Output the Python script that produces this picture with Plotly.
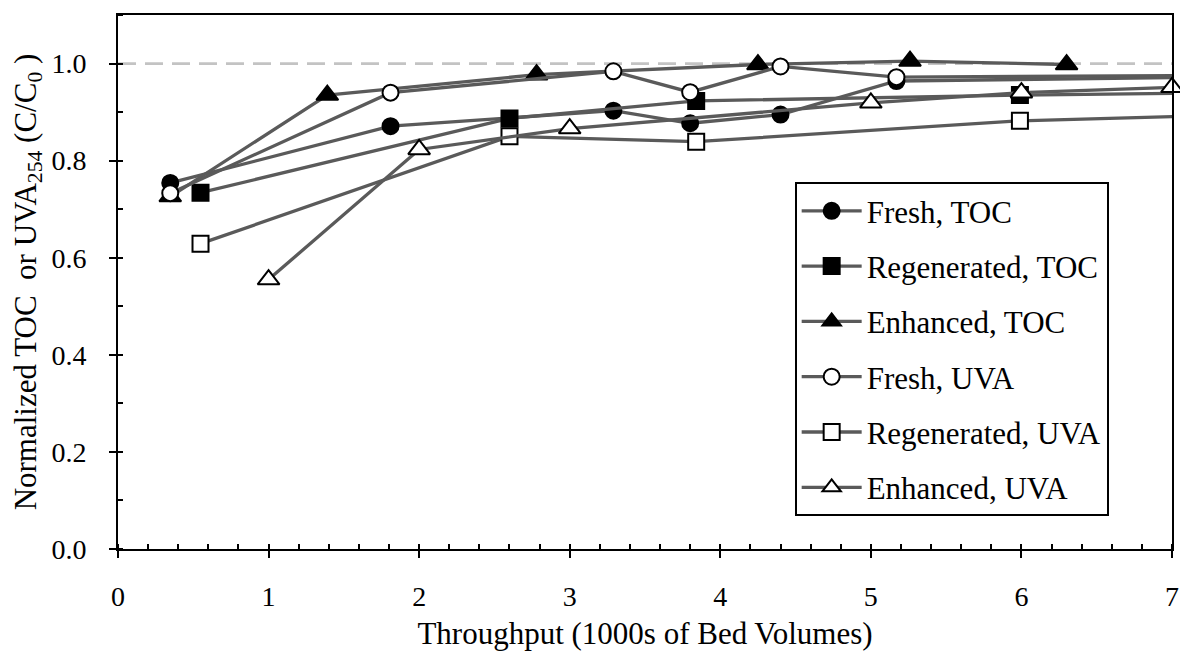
import plotly.graph_objects as go

# Throughput in 1000s of bed volumes, normalized concentration C/C0
fresh_toc_x = [0.347, 1.81, 3.29, 3.80, 4.40, 5.17, 7.5]
fresh_toc_y = [0.754, 0.871, 0.903, 0.877, 0.895, 0.964, 0.973]

regen_toc_x = [0.548, 2.60, 3.84, 5.99, 7.5]
regen_toc_y = [0.734, 0.887, 0.923, 0.935, 0.940]

enh_toc_x = [0.347, 1.39, 2.78, 4.25, 5.26, 6.30]
enh_toc_y = [0.726, 0.935, 0.977, 0.998, 1.005, 0.998]

fresh_uva_x = [0.347, 1.81, 3.29, 3.80, 4.40, 5.17, 7.5]
fresh_uva_y = [0.733, 0.940, 0.984, 0.941, 0.994, 0.972, 0.976]

regen_uva_x = [0.548, 2.60, 3.84, 5.99, 7.5]
regen_uva_y = [0.629, 0.850, 0.839, 0.882, 0.895]

enh_uva_x = [1.0, 2.0, 3.0, 5.0, 6.0, 7.0]
enh_uva_y = [0.555, 0.823, 0.866, 0.919, 0.940, 0.951]

x_ticks = [0, 1, 2, 3, 4, 5, 6, 7]
y_ticks = [0.0, 0.2, 0.4, 0.6, 0.8, 1.0]
reference_level = 1.0

FONT = "Liberation Serif"
LINE_GREY = "#5a5a5a"

series = [
    ("Fresh, TOC", fresh_toc_x, fresh_toc_y, "circle", "black"),
    ("Regenerated, TOC", regen_toc_x, regen_toc_y, "square", "black"),
    ("Enhanced, TOC", enh_toc_x, enh_toc_y, "triangle-up", "black"),
    ("Fresh, UVA", fresh_uva_x, fresh_uva_y, "circle", "white"),
    ("Regenerated, UVA", regen_uva_x, regen_uva_y, "square", "white"),
    ("Enhanced, UVA", enh_uva_x, enh_uva_y, "triangle-up", "white"),
]

fig = go.Figure()
for i, (name, xs, ys, sym, fill) in enumerate(series):
    size = 19 if sym == "triangle-up" else 16
    fig.add_trace(go.Scatter(
        x=xs, y=ys, name=name, mode="lines+markers",
        legendgroup=f"g{i}",
        cliponaxis=False,
        line=dict(color=LINE_GREY, width=3.3),
        marker=dict(symbol=sym, size=size, color=fill,
                    line=dict(color="black", width=2)),
    ))

# dashed reference at C/C0 = 1
fig.add_shape(type="line", xref="x", yref="y", x0=x_ticks[0], x1=x_ticks[-1],
              y0=reference_level, y1=reference_level, layer="below",
              line=dict(color="#c3c3c3", width=2.7, dash="18px,9px"))

axis_common = dict(showgrid=False, zeroline=False, showline=True,
                   linecolor="black", linewidth=2, mirror=True, automargin=False,
                   ticks="outside", ticklen=7, tickwidth=2, tickcolor="black",
                   tickfont=dict(family=FONT, size=28, color="black"))

fig.update_layout(
    width=1180, height=651,
    margin=dict(l=118, r=8, t=15, b=102),
    paper_bgcolor="white", plot_bgcolor="white",
    font=dict(family=FONT, color="black"),
    xaxis=dict(range=[0, 7], tickvals=x_ticks, ticklabelstandoff=14,
               minor=dict(ticks="inside", dtick=0.2, tick0=0, ticklen=5,
                          tickwidth=1.5, tickcolor="black", showgrid=False),
               title=dict(text="Throughput (1000s of Bed Volumes)",
                          font=dict(family=FONT, size=31), standoff=16),
               **axis_common),
    yaxis=dict(range=[0, 1.1], tickvals=y_ticks, tickformat=".1f",
               ticklabelstandoff=17,
               minor=dict(ticks="inside", dtick=0.1, tick0=0, ticklen=5,
                          tickwidth=1.5, tickcolor="black", showgrid=False),
               title=dict(text="Normalized TOC \u00a0or UVA<sub>254</sub> (C/C<sub>0</sub>\u00a0)",
                          font=dict(family=FONT, size=31), standoff=6),
               **axis_common),
    xaxis2=dict(overlaying="x", anchor="y", range=[0, 7], tickvals=x_ticks,
                ticks="inside", ticklen=7, tickwidth=2, tickcolor="black",
                showticklabels=False, showgrid=False, zeroline=False, showline=False),
    yaxis2=dict(overlaying="y", anchor="x", side="left", range=[0, 1.1], tickvals=y_ticks,
                ticks="inside", ticklen=7, tickwidth=2, tickcolor="black",
                showticklabels=False, showgrid=False, zeroline=False, showline=False),
    legend=dict(x=0.642, y=0.687, xanchor="left", yanchor="top",
                bgcolor="white", bordercolor="black", borderwidth=2,
                font=dict(family=FONT, size=31, color="black"),
                tracegroupgap=12, itemwidth=60),
    showlegend=True,
)

fig.write_html("out.html")
